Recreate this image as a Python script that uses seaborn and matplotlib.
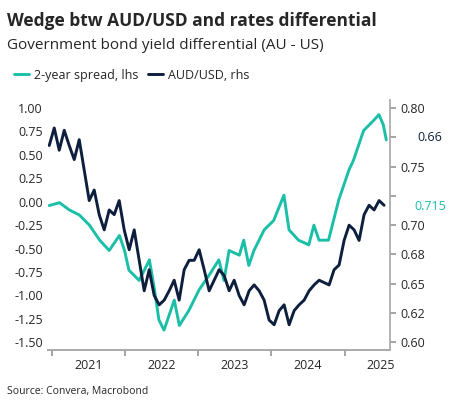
import numpy as np
import matplotlib
matplotlib.use("Agg")
import matplotlib.pyplot as plt
import seaborn as sns
import pandas as pd

sns.set_theme(style="white")
plt.rcParams['font.family'] = ['Open Sans', 'DejaVu Sans']

teal_years = [2020.96, 2021.10, 2021.24, 2021.37, 2021.51, 2021.65, 2021.78, 2021.92, 2021.99, 2022.05,
              2022.19, 2022.33, 2022.40, 2022.46, 2022.53, 2022.67, 2022.74, 2022.87, 2023.01, 2023.15,
              2023.28, 2023.35, 2023.42, 2023.56, 2023.62, 2023.69, 2023.76, 2023.90, 2024.03, 2024.17,
              2024.24, 2024.37, 2024.51, 2024.58, 2024.65, 2024.78, 2024.92, 2025.06, 2025.12, 2025.26,
              2025.40, 2025.47, 2025.53, 2025.57]
spread = [-0.04, -0.01, -0.09, -0.14, -0.25, -0.41, -0.52, -0.36, -0.52, -0.73,
          -0.84, -0.62, -0.94, -1.26, -1.37, -1.05, -1.32, -1.16, -0.94, -0.78,
          -0.62, -0.84, -0.52, -0.57, -0.41, -0.68, -0.52, -0.30, -0.20, 0.07,
          -0.30, -0.41, -0.46, -0.25, -0.41, -0.41, 0.02, 0.34, 0.44, 0.76,
          0.87, 0.93, 0.82, 0.66]
audusd = [0.768, 0.783, 0.764, 0.781, 0.768, 0.756, 0.773, 0.747, 0.721, 0.730,
          0.709, 0.696, 0.713, 0.709, 0.721, 0.696, 0.679, 0.696, 0.670, 0.644,
          0.662, 0.640, 0.632, 0.636, 0.644, 0.653, 0.636, 0.662, 0.670, 0.670,
          0.679, 0.662, 0.644, 0.653, 0.662, 0.657, 0.644, 0.653, 0.640, 0.632,
          0.644, 0.649, 0.644, 0.636, 0.619, 0.615, 0.627, 0.632, 0.615, 0.627,
          0.632, 0.636, 0.644, 0.649, 0.653, 0.651, 0.649, 0.662, 0.666, 0.687,
          0.700, 0.696, 0.687, 0.709, 0.717, 0.713, 0.721, 0.717]
aud_years = np.linspace(2020.96, 2025.54, len(audusd))
year_labels = ["2021", "2022", "2023", "2024", "2025"]

TEAL = "#1bbfa8"
NAVY = "#0d1f3c"

fig = plt.figure(figsize=(4.55, 4.17), dpi=100)
ax = fig.add_axes([0.105, 0.16, 0.752, 0.60])
ax2 = ax.twinx()

sns.lineplot(x=teal_years, y=spread, ax=ax, color=TEAL, lw=2.1, label="2-year spread, lhs", legend=False)
sns.lineplot(x=aud_years, y=audusd, ax=ax2, color=NAVY, lw=2.1, label="AUD/USD, rhs", legend=False)

ax.set_xlim(2020.94, 2025.62)
ax.set_ylim(-1.585, 1.085)
ax2.set_ylim(0.5932, 0.8068)
ax.set_yticks(np.arange(-1.5, 1.01, 0.25))
ax.set_yticklabels([f"{v:.2f}" for v in np.arange(-1.5, 1.01, 0.25)], fontsize=9)
rt = np.arange(0.60, 0.8001, 0.025)
ax2.set_yticks(rt)
labs = [f"{v:.2f}" for v in rt]
labs[-2] = ""
labs[-4] = ""
ax2.set_yticklabels(labs, fontsize=9)
ax2.text(1.08, (0.775 - 0.5932) / (0.8068 - 0.5932), "0.66", transform=ax2.transAxes,
         color=NAVY, fontsize=9, va="center")
ax2.text(1.07, (0.716 - 0.5932) / (0.8068 - 0.5932), "0.715", transform=ax2.transAxes,
         color=TEAL, fontsize=9, va="center")

years = [2021, 2022, 2023, 2024, 2025]
ax.set_xticks(years)
ax.set_xticklabels([])
ax.set_xticks([y + 0.5 for y in years], minor=True)
ax.set_xticklabels(year_labels, minor=True, fontsize=9)
ax.tick_params(axis="x", which="minor", length=0, pad=6)
ax.tick_params(axis="x", which="major", length=4, color="#999999", bottom=True)
ax.tick_params(axis="y", length=0)
ax2.tick_params(axis="y", length=4, color="#999999", right=True)

for a in (ax, ax2):
    for s in ["top", "left"]:
        a.spines[s].set_visible(False)
    a.spines["bottom"].set_color("#aaaaaa")
    a.spines["right"].set_color("#aaaaaa")
ax.spines["right"].set_visible(False)

h1, l1 = ax.get_legend_handles_labels()
h2, l2 = ax2.get_legend_handles_labels()
fig.legend(h1 + h2, l1 + l2, loc="center left", bbox_to_anchor=(0.005, 0.82), ncol=2,
           frameon=False, fontsize=9, handlelength=1.2, columnspacing=0.8, handletextpad=0.4)

fig.text(0.015, 0.95, "Wedge btw AUD/USD and rates differential", fontsize=12.5, fontweight="bold", va="center")
fig.text(0.015, 0.89, "Government bond yield differential (AU - US)", fontsize=11, va="center")
fig.text(0.015, 0.06, "Source: Convera, Macrobond", fontsize=7.5, va="center")

fig.savefig("out.png", dpi=100)
